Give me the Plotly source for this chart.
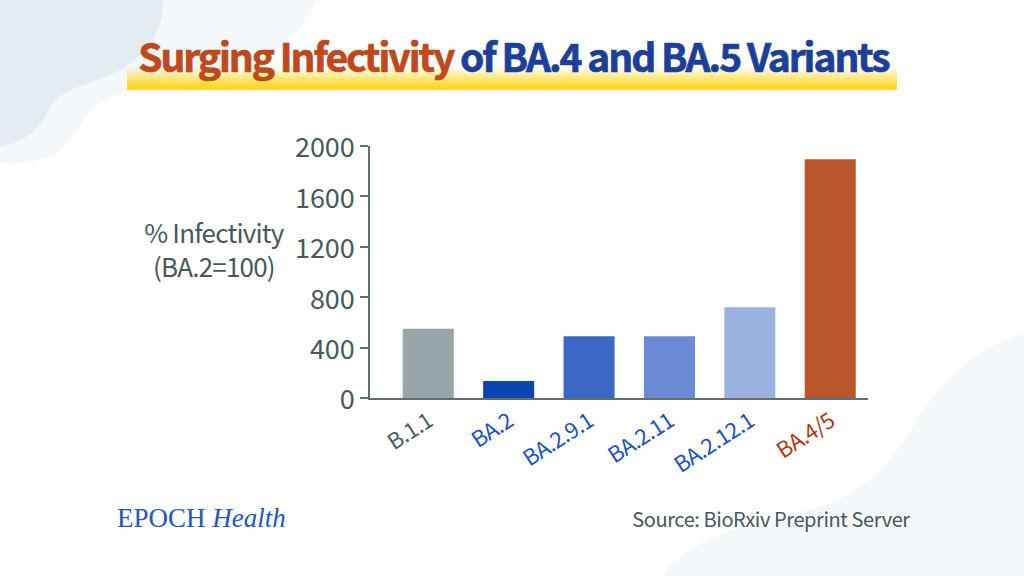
import plotly.graph_objects as go

variants = ["B.1.1", "BA.2", "BA.2.9.1", "BA.2.11", "BA.2.12.1", "BA.4/5"]
infectivity = [550, 135, 490, 490, 720, 1895]
bar_colors = ["#98a6aa", "#0b46b0", "#3b68c4", "#6a8bd3", "#9bb1e0", "#b8562c"]
label_colors = ["#4a5d5f", "#1a52bd", "#1a52bd", "#1a52bd", "#1a52bd", "#ad3a0e"]
y_ticks = [0, 400, 800, 1200, 1600, 2000]

W, H = 1024, 576
FONT = "Noto Sans CJK JP"
GREY = "#47595c"


def px(x):
    return x / W


def py(y):
    return 1 - y / H


def blob(start, curves, color):
    # start point, then (c1, c2, end) cubic segments, all in page pixels
    d = "M %.4f,%.4f" % (px(start[0]), py(start[1]))
    for a, b, c in curves:
        d += " C %.4f,%.4f %.4f,%.4f %.4f,%.4f" % (px(a[0]), py(a[1]), px(b[0]), py(b[1]), px(c[0]), py(c[1]))
    d += " Z"
    return dict(type="path", xref="paper", yref="paper", path=d, fillcolor=color,
                line=dict(width=0), layer="below")


shapes = [
    # pale blob top left
    blob((0, 0), [((100, 0), (200, 0), (316, 0)),
                  ((305, 30), (280, 55), (233, 65)),
                  ((190, 75), (130, 85), (100, 103)),
                  ((80, 118), (75, 140), (53, 155)),
                  ((35, 163), (15, 164), (0, 163))], "#f4f8fa"),
    # darker blob top left
    blob((0, 0), [((50, 0), (110, 0), (163, 0)),
                  ((165, 30), (145, 60), (110, 75)),
                  ((85, 85), (65, 90), (55, 100)),
                  ((45, 112), (42, 138), (0, 147))], "#e3ecf1"),
    # pale blob bottom right
    blob((1024, 333), [((985, 345), (955, 370), (933, 397)),
                       ((915, 420), (905, 445), (880, 470)),
                       ((860, 490), (835, 505), (800, 512)),
                       ((740, 525), (680, 545), (663, 576)),
                       ((800, 576), (900, 576), (1024, 576))], "#f4f8fa"),
]

# title underline, yellow fading up to white
band_top, band_bot = 67, 90
for i in range(band_bot - band_top):
    t = min(1.0, (i + 1) / 19)
    shapes.append(dict(type="rect", xref="paper", yref="paper", x0=px(127), x1=px(897),
                       y0=py(band_top + i), y1=py(band_top + i + 1),
                       fillcolor="rgba(252,217,44,%.3f)" % t, line=dict(width=0), layer="below"))

fig = go.Figure(go.Bar(
    x=list(range(len(variants))),
    y=infectivity,
    width=0.635,
    marker=dict(color=bar_colors, line=dict(width=0)),
))

ticktext = ['<span style="color:%s">%s</span>' % (c, v) for c, v in zip(label_colors, variants)]

fig.update_layout(
    width=W, height=H,
    autosize=False,
    paper_bgcolor="white",
    plot_bgcolor="rgba(0,0,0,0)",
    showlegend=False,
    margin=dict(l=0, r=0, t=0, b=0, autoexpand=False),
    font=dict(family=FONT, color=GREY),
    shapes=shapes,
    annotations=[
        dict(xref="paper", yref="paper", x=px(513), y=py(55), text=(
            '<span style="color:#c0481b"><b>Surging Infectivity</b></span>'
            '<span style="color:#1c3f9c"><b> of BA.4 and BA.5 Variants</b></span>'),
            showarrow=False, font=dict(size=39, family=FONT), xanchor="center", yanchor="middle"),
        dict(xref="paper", yref="paper", x=px(214), y=py(248),
             text="% Infectivity<br>(BA.2=100)", showarrow=False, align="center",
             font=dict(size=26, color=GREY, family=FONT), xanchor="center", yanchor="middle"),
        dict(xref="paper", yref="paper", x=px(115), y=py(518), text="EPOCH <i>Health</i>",
             showarrow=False, font=dict(size=27, color="#1f55c4", family="Liberation Serif"),
             xanchor="left", yanchor="middle"),
        dict(xref="paper", yref="paper", x=px(918), y=py(518), text="Source: BioRxiv Preprint Server",
             showarrow=False, font=dict(size=20, color=GREY, family=FONT),
             xanchor="right", yanchor="middle"),
    ],
    xaxis=dict(
        domain=[px(370), px(868)],
        range=[-0.725, 5.47],
        tickmode="array",
        tickvals=list(range(len(variants))),
        ticktext=ticktext,
        tickangle=-33,
        tickfont=dict(size=22, family=FONT),
        ticks="",
        showgrid=False,
        zeroline=False,
        showline=True,
        linecolor="#5f7073",
        linewidth=2,
        anchor="y",
    ),
    yaxis=dict(
        domain=[py(398), py(146)],
        range=[0, 2000],
        tickmode="array",
        tickvals=y_ticks,
        ticks="outside",
        ticklen=8,
        tickwidth=1.5,
        tickcolor="#5f7073",
        tickfont=dict(size=27, color=GREY, family=FONT),
        ticklabelshift=2,
        showgrid=False,
        zeroline=False,
        showline=True,
        linecolor="#5f7073",
        linewidth=1.5,
        anchor="x",
    ),
)

# plotly has no letter spacing option, and the page margin has to go for a full-bleed picture
css = """
body { margin: 0; overflow: hidden; }
.annotation[data-index="0"] text { letter-spacing: -2.05px; font-weight: 800; }
.annotation[data-index="0"] tspan[style*="c0481b"] { stroke: #c0481b; stroke-width: 0.7px; }
.annotation[data-index="0"] tspan[style*="1c3f9c"] { stroke: #1c3f9c; stroke-width: 0.7px; }
.annotation[data-index="1"] text { letter-spacing: -0.8px; }
.annotation[data-index="3"] text { letter-spacing: -0.4px; }
.xtick text { letter-spacing: -0.6px; }
"""
post = "var s=document.createElement('style');s.textContent=%r;document.head.appendChild(s);" % css

fig.write_html("out.html", post_script=post, config=dict(displayModeBar=False))
